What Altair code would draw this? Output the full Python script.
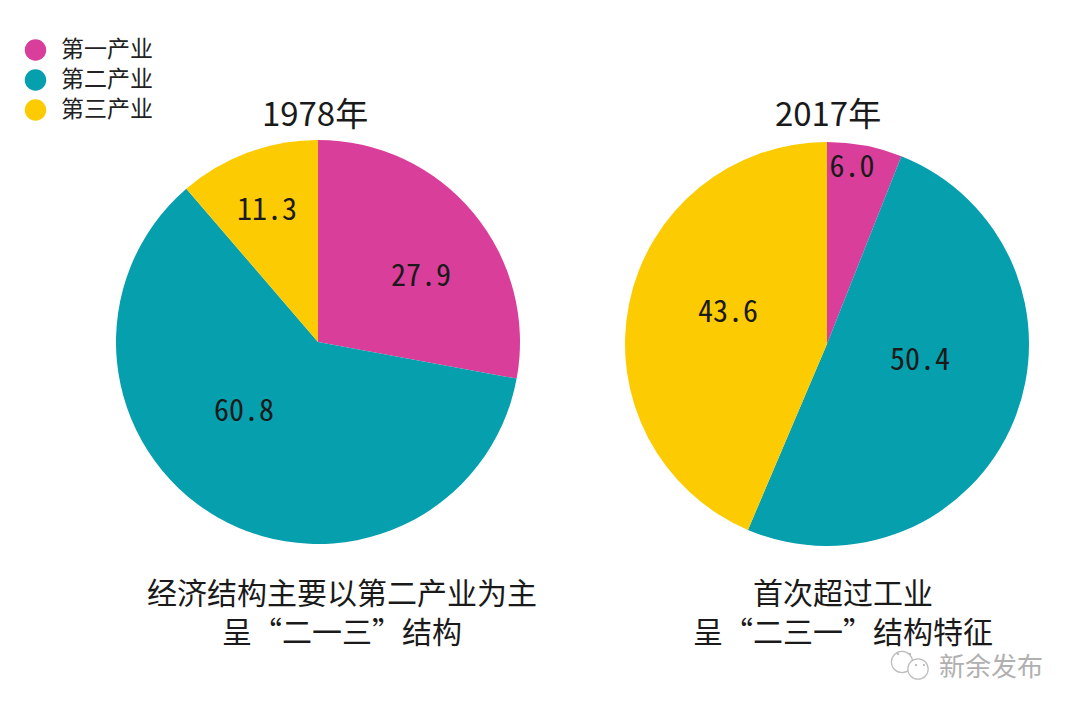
import altair as alt
import pandas as pd

SECTORS = ["第一产业", "第二产业", "第三产业"]
COLORS = ["#D93E9A", "#069FAD", "#FDCB02"]
VALUES_1978 = [27.9, 60.8, 11.3]
VALUES_2017 = [6.0, 50.4, 43.6]
TITLE_1978 = "1978年"
TITLE_2017 = "2017年"
CAPTION_1978 = ["经济结构主要以第二产业为主", "呈“二一三”结构"]
CAPTION_2017 = ["首次超过工业", "呈“二三一”结构特征"]
WATERMARK = "新余发布"

CJK = "Noto Sans CJK SC"
MONO = "Noto Sans Mono CJK SC, DejaVu Sans Mono"
OFF = 8  # page margin


def pie(values, cx, cy, r, legend):
    df = pd.DataFrame({"sector": SECTORS, "value": values, "rank": [0, 1, 2]})
    return alt.Chart(df).mark_arc(radius=r).encode(
        theta=alt.Theta("value:Q", stack=True, scale=alt.Scale(domain=[0, 100])),
        order=alt.Order("rank:O"),
        color=alt.Color(
            "sector:N",
            scale=alt.Scale(domain=SECTORS, range=COLORS),
            legend=alt.Legend(
                title=None, orient="none", legendX=16, legendY=30,
                symbolType="circle", symbolSize=460, symbolStrokeWidth=0,
                labelFont=CJK, labelFontSize=23, labelColor="#222222",
                rowPadding=6, labelOffset=14, symbolOffset=0,
                clipHeight=24,
            ) if legend else None,
        ),
        x=alt.value(cx - OFF),
        y=alt.value(cy - OFF),
    )


def text(s, x, y, size, font=CJK, color="#1a1a1a"):
    return alt.Chart(pd.DataFrame({"t": [s]})).mark_text(
        font=font, fontSize=size, color=color, align="center", baseline="middle",
    ).encode(x=alt.value(x - OFF), y=alt.value(y - OFF), text="t:N")


def ring(x, y, size):
    return alt.Chart(pd.DataFrame({"t": [0]})).mark_point(
        shape="circle", size=size, stroke="#bdbdbd", strokeWidth=1.2, fill="white", filled=True,
        opacity=1,
    ).encode(x=alt.value(x - OFF), y=alt.value(y - OFF))


def dot(x, y):
    return alt.Chart(pd.DataFrame({"t": [0]})).mark_point(
        shape="circle", size=4, fill="#a8a8a8", filled=True, opacity=1, strokeWidth=0,
    ).encode(x=alt.value(x - OFF), y=alt.value(y - OFF))


layers = [
    pie(VALUES_1978, 318, 342, 202, True),
    pie(VALUES_2017, 827, 344, 202, False),
    text(f"{VALUES_1978[0]}", 421, 277, 30, MONO),
    text(f"{VALUES_1978[1]}", 244, 412, 30, MONO),
    text(f"{VALUES_1978[2]}", 267, 211, 30, MONO),
    text(f"{VALUES_2017[0]}", 852, 168, 30, MONO),
    text(f"{VALUES_2017[1]}", 920, 361, 30, MONO),
    text(f"{VALUES_2017[2]}", 728, 313, 30, MONO),
    text(TITLE_1978, 315, 116, 33),
    text(TITLE_2017, 828, 116, 33),
    text(CAPTION_1978[0], 342, 595, 30),
    text(CAPTION_1978[1], 342, 634, 30),
    text(CAPTION_2017[0], 843, 595, 30),
    text(CAPTION_2017[1], 843, 634, 30),
    ring(902, 662, 450),
    ring(918, 669, 415),
    dot(898, 654),
    dot(910, 654),
    dot(916, 665),
    dot(924, 665),
    text(WATERMARK, 991, 668, 26, CJK, "#b0b0b0"),
]

chart = alt.layer(*layers).resolve_scale(theta="independent").properties(
    width=1064, height=698, padding=0, autosize=alt.AutoSizeParams(type="none"),
    background="white",
).configure_view(stroke=None)

chart.save("out.html", embed_options={"renderer": "svg", "actions": False})
